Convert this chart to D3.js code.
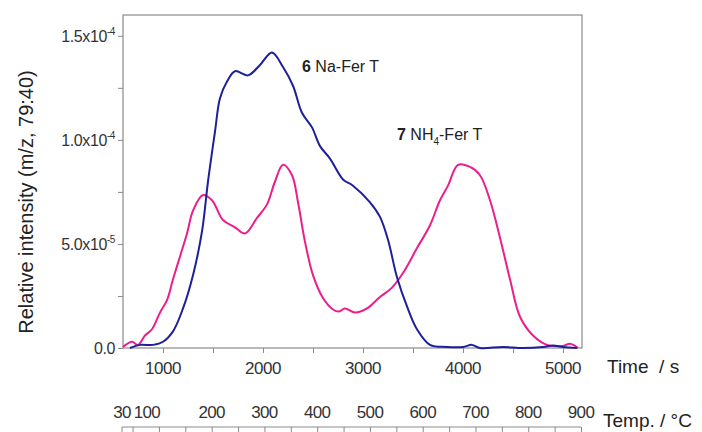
<!DOCTYPE html>
<html>
<head>
<meta charset="utf-8">
<script src="https://cdn.jsdelivr.net/npm/d3@7"></script>
<style>
  body { margin: 0; background: #fff; }
  svg { display: block; font-family: "Liberation Sans", Arial, sans-serif; }
</style>
</head>
<body>
<svg id="chart" width="702" height="432"></svg>
<script>
// time in s, intensity in units of 1e-5
const naTime = [670, 770, 900, 1000, 1100, 1200, 1300, 1390, 1450, 1520, 1570, 1640, 1720, 1850, 1970, 2090, 2200, 2300, 2390, 2490, 2570, 2670, 2800, 2900, 3070, 3170, 3250, 3340, 3440, 3540, 3670, 3840, 4000, 4090, 4170, 4400, 4600, 4800, 4900, 5000, 5140];
const naValue = [0, 0.15, 0.15, 0.3, 0.8, 1.9, 3.5, 5.6, 8.0, 10.4, 12.0, 12.8, 13.3, 13.1, 13.6, 14.2, 13.5, 12.6, 11.3, 10.6, 9.7, 9.1, 8.1, 7.8, 7.0, 6.3, 5.2, 3.4, 2.0, 0.9, 0.15, 0.05, 0.05, 0.15, 0.0, 0.05, 0.0, 0.05, 0.12, 0.05, 0];

const nhTime = [600, 690, 750, 820, 890, 970, 1040, 1100, 1170, 1240, 1300, 1400, 1490, 1600, 1720, 1820, 1940, 2040, 2120, 2200, 2290, 2350, 2420, 2500, 2600, 2700, 2760, 2820, 2920, 3040, 3170, 3290, 3400, 3540, 3670, 3770, 3850, 3950, 4070, 4170, 4270, 4370, 4470, 4570, 4700, 4840, 5000, 5070, 5150];
const nhValue = [0.05, 0.3, 0.15, 0.6, 0.9, 1.7, 2.3, 3.3, 4.4, 5.5, 6.6, 7.35, 7.1, 6.15, 5.8, 5.5, 6.25, 6.9, 8.0, 8.8, 8.3, 7.0, 5.1, 3.5, 2.4, 1.85, 1.75, 1.9, 1.7, 1.9, 2.45, 2.9, 3.6, 4.8, 5.9, 7.1, 7.8, 8.8, 8.7, 8.3, 7.1, 5.3, 3.3, 1.5, 0.6, 0.15, 0.1, 0.2, 0];

const timeTicks = [1000, 2000, 3000, 4000, 5000];
const timeMinor = [1000, 1500, 2000, 2500, 3000, 3500, 4000, 4500, 5000];
const yTicks = [0, 5e-5, 1e-4, 1.5e-4];
const yTickBase = ["0.0", "5.0x10", "1.0x10", "1.5x10"];
const yTickExp = ["", "-5", "-4", "-4"];
const yMinor = [0, 2.5e-5, 5e-5, 7.5e-5, 1e-4, 1.25e-4, 1.5e-4];
const tempLabels = [30, 100, 200, 300, 400, 500, 600, 700, 800, 900];
const tempMinor = [50, 100, 150, 200, 250, 300, 350, 400, 450, 500, 550, 600, 650, 700, 750, 800, 850, 900];

const margin = { top: 15, right: 120, bottom: 84, left: 123 };
const width = 702 - margin.left - margin.right;
const height = 432 - margin.top - margin.bottom;

const svg = d3.select("#chart");
const g = svg.append("g").attr("transform", `translate(${margin.left},${margin.top})`);

const x = d3.scaleLinear().domain([600, 5190]).range([0, width]);
const y = d3.scaleLinear().domain([0, 1.6e-4]).range([height, 0]);
const temp = d3.scaleLinear().domain([30, 900]).range([-1, width - 1]);

const frameColor = "#8a8a8a";
const textColor = "#333";

// frame
g.append("rect")
    .attr("width", width).attr("height", height)
    .attr("fill", "none").attr("stroke", frameColor).attr("stroke-width", 1.2);

// x axis (time)
const xAxis = g.append("g").attr("transform", `translate(0,${height})`)
    .call(d3.axisBottom(x).tickValues(timeMinor).tickSize(5).tickFormat(""));
xAxis.select(".domain").remove();
xAxis.selectAll("line").attr("stroke", frameColor);

g.selectAll(".xlab").data(timeTicks).join("text")
    .attr("class", "xlab")
    .attr("x", d => x(d)).attr("y", height + 26)
    .attr("text-anchor", "middle")
    .attr("font-size", 17).attr("letter-spacing", -0.5).attr("fill", textColor)
    .text(d => d);

// y axis
const yAxis = g.append("g")
    .call(d3.axisLeft(y).tickValues(yMinor).tickSize(5).tickFormat(""));
yAxis.select(".domain").remove();
yAxis.selectAll("line").attr("stroke", frameColor);

const ylab = g.selectAll(".ylab").data(yTicks).join("text")
    .attr("class", "ylab")
    .attr("x", -8).attr("y", d => y(d) + 6)
    .attr("text-anchor", "end")
    .attr("font-size", 16).attr("letter-spacing", -0.4).attr("fill", textColor);
ylab.append("tspan").text((d, i) => yTickBase[i]);
ylab.append("tspan").attr("dy", -7).attr("font-size", 10).text((d, i) => yTickExp[i]);

// temperature axis: line with ticks hanging down, labels above it
const tempY = 427;
const tAxis = svg.append("g").attr("transform", `translate(${margin.left},${tempY})`)
    .call(d3.axisBottom(temp).tickValues(tempMinor).tickSize(8).tickFormat(""));
tAxis.select(".domain").attr("stroke", frameColor).attr("d", `M${temp(30)},8V0H${temp(900)}`);
tAxis.selectAll("line").attr("stroke", frameColor);

svg.selectAll(".tlab").data(tempLabels).join("text")
    .attr("class", "tlab")
    .attr("x", d => margin.left + temp(d) + (d === 100 ? -12 : 0))
    .attr("y", 418)
    .attr("text-anchor", "middle")
    .attr("font-size", 17).attr("letter-spacing", -0.6).attr("fill", textColor)
    .text(d => d);

// lines
const line = d3.line().curve(d3.curveCatmullRom.alpha(0.5))
    .x(d => x(d[0])).y(d => y(d[1] * 1e-5));

g.append("path")
    .datum(nhTime.map((t, i) => [t, nhValue[i]]))
    .attr("d", line).attr("fill", "none")
    .attr("stroke", "#ec1e8c").attr("stroke-width", 2);

g.append("path")
    .datum(naTime.map((t, i) => [t, naValue[i]]))
    .attr("d", line).attr("fill", "none")
    .attr("stroke", "#1f1f99").attr("stroke-width", 2);

// annotations
const a1 = svg.append("text").attr("x", 302).attr("y", 72)
    .attr("font-size", 16).attr("fill", "#222");
a1.append("tspan").attr("font-weight", "bold").text("6");
a1.append("tspan").text(" Na-Fer T");

const a2 = svg.append("text").attr("x", 397).attr("y", 140)
    .attr("font-size", 16).attr("fill", "#222");
a2.append("tspan").attr("font-weight", "bold").text("7");
a2.append("tspan").text(" NH");
a2.append("tspan").attr("dy", 5).attr("font-size", 10).text("4");
a2.append("tspan").attr("dy", -5).text("-Fer T");

// axis titles
svg.append("text").attr("x", 607).attr("y", 373)
    .attr("font-size", 19).attr("fill", "#222")
    .attr("xml:space", "preserve")
    .text("Time  / s");

svg.append("text").attr("x", 603).attr("y", 427)
    .attr("font-size", 19).attr("fill", "#222")
    .text("Temp. / °C");

svg.append("text")
    .attr("transform", "translate(33,202) rotate(-90)")
    .attr("text-anchor", "middle")
    .attr("font-size", 20).attr("fill", "#222")
    .text("Relative intensity (m/z, 79:40)");
</script>
</body>
</html>
